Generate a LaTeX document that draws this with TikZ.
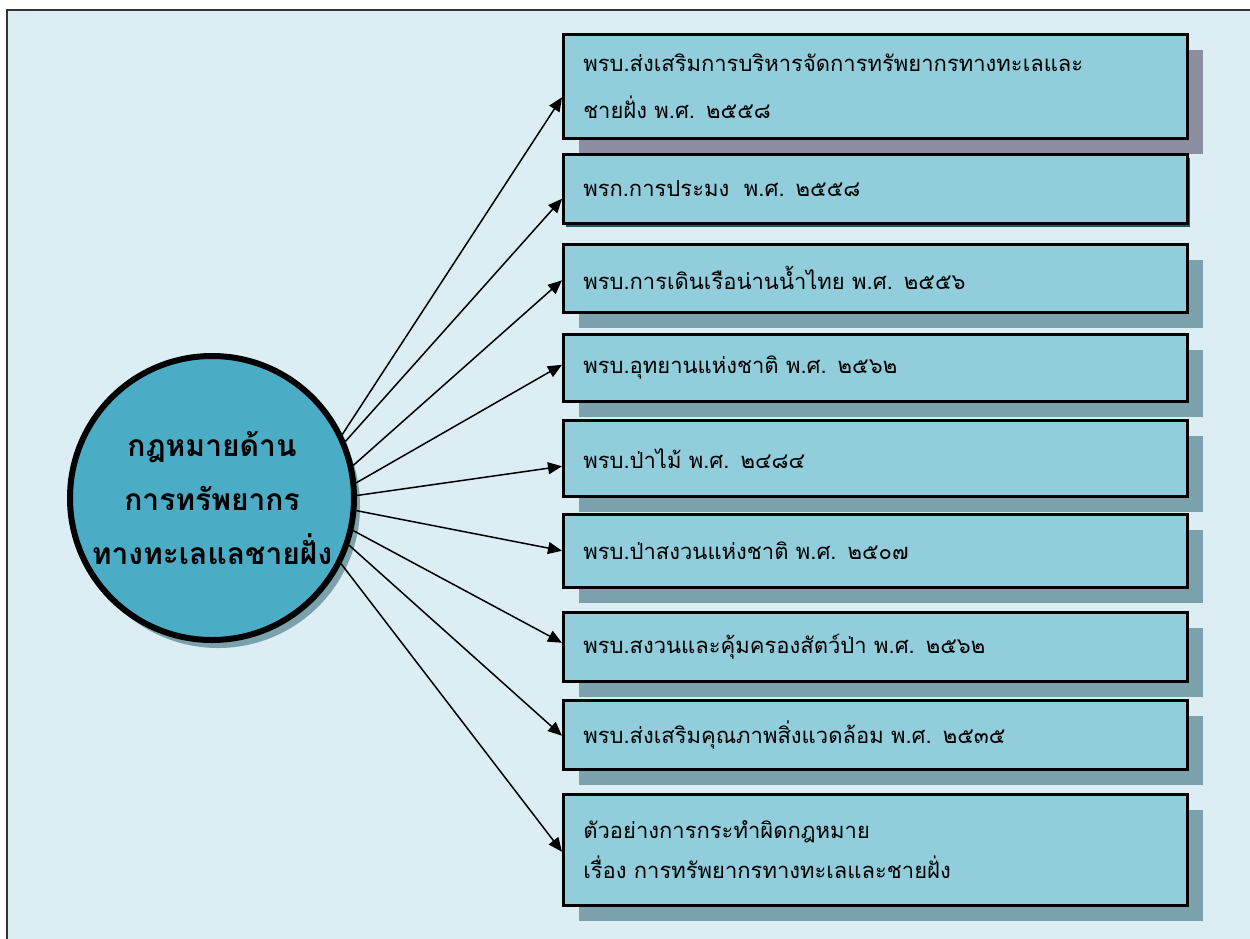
\documentclass[tikz,border=0pt]{standalone}
\usepackage{fontspec}
\setmainfont[Script=Thai]{Loma}
\usepackage{xcolor}
\usetikzlibrary{arrows.meta, shadows}
\definecolor{framebg}{RGB}{220,238,244}
\definecolor{boxfill}{RGB}{146,205,220}
\definecolor{hubfill}{RGB}{75,172,198}
\definecolor{shadeteal}{RGB}{123,162,172}
\definecolor{shadegrey}{RGB}{139,141,161}
\definecolor{shadedark}{RGB}{39,87,99}

\begin{document}
\begin{tikzpicture}[x=1pt, y=-1pt,
    lawbox/.style={rectangle, draw=black, line width=2.5pt, fill=boxfill, anchor=north west,
        minimum width=624pt, text width=584pt, inner xsep=20pt, inner ysep=0pt, align=left,
        font=\fontsize{22}{40}\selectfont},
    tealshade/.style={drop shadow={shadow xshift=16pt, shadow yshift=-16pt, opacity=1, fill=shadeteal}},
    greyshade/.style={drop shadow={shadow xshift=16pt, shadow yshift=-16pt, opacity=1, fill=shadegrey}},
    darkshade/.style={drop shadow={shadow xshift=3pt, shadow yshift=-4pt, opacity=1, fill=shadedark}},
    hub/.style={circle, draw=black, line width=6pt, fill=hubfill, minimum size=284pt, align=center,
        font=\bfseries\fontsize{30}{54}\selectfont,
        drop shadow={shadow xshift=6pt, shadow yshift=-8pt, opacity=1, fill=shadeteal}},
    link/.style={-{Triangle[length=14pt, width=12pt]}, line width=1.5pt}]

        \useasboundingbox (0,0) rectangle (1250,938);
        \clip (0,0) rectangle (1250,938);

        % 1. Light blue frame (runs off the right and bottom edges)
        \draw[line width=2pt, draw=black!80, fill=framebg] (7,10) rectangle (1262,952);

        % 2. Central circle
        \node[hub] (hub) at (212,498) {กฎหมายด้าน\\การทรัพยากร\\ทางทะเลแลชายฝั่ง};

        % 3. Law boxes on the right (top-left corner, height)
        \node[lawbox, greyshade, minimum height=104pt] (law1) at (562,33)
            {พรบ.ส่งเสริมการบริหารจัดการทรัพยากรทางทะเลและ\\[7pt]ชายฝั่ง พ.ศ. ๒๕๕๘};
        \node[lawbox, darkshade, minimum height=69pt] (law2) at (562,153)
            {พรก.การประมง\ \ พ.ศ. ๒๕๕๘};
        \node[lawbox, tealshade, minimum height=68pt] (law3) at (562,243)
            {พรบ.การเดินเรือน่านน้ำไทย พ.ศ. ๒๕๕๖};
        \node[lawbox, tealshade, minimum height=67pt] (law4) at (562,333)
            {พรบ.อุทยานแห่งชาติ พ.ศ. ๒๕๖๒};
        \node[lawbox, tealshade, minimum height=76pt] (law5) at (562,419)
            {พรบ.ป่าไม้ พ.ศ. ๒๔๘๔};
        \node[lawbox, tealshade, minimum height=73pt] (law6) at (562,513)
            {พรบ.ป่าสงวนแห่งชาติ พ.ศ. ๒๕๐๗};
        \node[lawbox, tealshade, minimum height=69pt] (law7) at (562,611)
            {พรบ.สงวนและคุ้มครองสัตว์ป่า พ.ศ. ๒๕๖๒};
        \node[lawbox, tealshade, minimum height=69pt] (law8) at (562,699)
            {พรบ.ส่งเสริมคุณภาพสิ่งแวดล้อม พ.ศ. ๒๕๓๕};
        \node[lawbox, tealshade, minimum height=111pt] (law9) at (562,793)
            {ตัวอย่างการกระทำผิดกฎหมาย\\เรื่อง การทรัพยากรทางทะเลและชายฝั่ง};

        % 4. Arrows fanning out from the circle
        \draw[link] (hub.26.6) -- ([yshift=-11pt]law1.west);
        \draw[link] (hub.23.6) -- ([yshift=-10pt]law2.west);
        \draw[link] (hub.13.2) -- ([yshift=-2pt]law3.west);
        \draw[link] (hub.6.3) -- ([yshift=3pt]law4.west);
        \draw[link] (hub.1.2) -- ([yshift=-8pt]law5.west);
        \draw[link] (hub.-5.9) -- (law6.west);
        \draw[link] (hub.-13.8) -- ([yshift=4pt]law7.west);
        \draw[link] (hub.-19.5) -- ([yshift=-1pt]law8.west);
        \draw[link] (hub.-27.8) -- ([yshift=-2pt]law9.west);

    \end{tikzpicture}
\end{document}
